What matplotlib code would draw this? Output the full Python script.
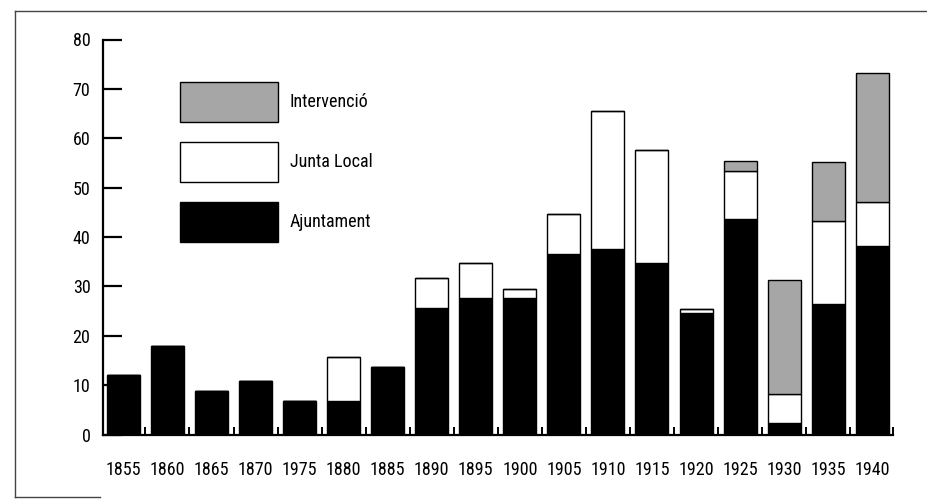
import matplotlib
matplotlib.use("Agg")
import matplotlib.pyplot as plt
from matplotlib.patches import Patch
from matplotlib.lines import Line2D
import numpy as np

plt.rcParams['font.family'] = ['Roboto Condensed', 'DejaVu Sans']

# Data
years = ["1855", "1860", "1865", "1870", "1975", "1880", "1885", "1890", "1895",
         "1900", "1905", "1910", "1915", "1920", "1925", "1930", "1935", "1940"]
ajuntament = [12.0, 18.0, 8.9, 10.8, 6.8, 6.8, 13.7, 25.7, 27.7,
              27.7, 36.6, 37.6, 34.7, 24.6, 43.6, 2.4, 26.5, 38.2]
junta_local = [0, 0, 0, 0, 0, 8.9, 0, 5.9, 7.0,
               1.8, 8.0, 27.9, 22.9, 0.9, 9.7, 5.9, 16.7, 8.9]
intervencio = [0, 0, 0, 0, 0, 0, 0, 0, 0,
               0, 0, 0, 0, 0, 2.1, 23.0, 12.0, 26.1]

x = np.arange(len(years))
aj = np.array(ajuntament)
jl = np.array(junta_local)
iv = np.array(intervencio)

fig = plt.figure(figsize=(9.27, 5.0), dpi=100)
ax = fig.add_axes([0.111, 0.131, 0.852, 0.790])

w = 0.75
ax.bar(x, aj, w, color="black", edgecolor="black", linewidth=1)
ax.bar(x, jl, w, bottom=aj, color="white", edgecolor="black", linewidth=1)
ax.bar(x, iv, w, bottom=aj + jl, color="#a6a6a6", edgecolor="black", linewidth=1)

ax.set_xlim(-0.465, len(years) - 1 + 0.465)
ax.set_ylim(0, 80)

for s in ["top", "right"]:
    ax.spines[s].set_visible(False)
ax.spines["left"].set_linewidth(1.6)
ax.spines["bottom"].set_linewidth(1.6)

ax.set_yticks(range(0, 81, 10))
ax.tick_params(axis="y", direction="in", length=14, width=1.6, pad=9, labelsize=13)
ax.set_xticks(x)
ax.set_xticklabels(years)
ax.tick_params(axis="x", length=0, pad=19, labelsize=13)
ax.set_xticks(list(np.arange(len(years) - 1) + 0.5) + [len(years) - 1 + 0.465], minor=True)
ax.tick_params(axis="x", which="minor", direction="in", length=6, width=1.4)

handles = [Patch(facecolor="#a6a6a6", edgecolor="black", label="Intervenció"),
           Patch(facecolor="white", edgecolor="black", label="Junta Local"),
           Patch(facecolor="black", edgecolor="black", label="Ajuntament")]
ax.legend(handles=handles, loc="upper left", bbox_to_anchor=(0.0975, 0.892),
          frameon=False, borderpad=0, borderaxespad=0, fontsize=13,
          handlelength=5.43, handleheight=3.03, labelspacing=1.107,
          handletextpad=0.66)

# scanned page frame
fig.add_artist(Line2D([15 / 927, 1.0], [1 - 11 / 500, 1 - 11 / 500], color="#444444", lw=1))
fig.add_artist(Line2D([15 / 927, 15 / 927], [1 - 11 / 500, 1 - 497 / 500], color="#444444", lw=1))
fig.add_artist(Line2D([15 / 927, 100 / 927], [1 - 497 / 500, 1 - 497 / 500], color="#444444", lw=1))

fig.savefig("out.png", dpi=100)
